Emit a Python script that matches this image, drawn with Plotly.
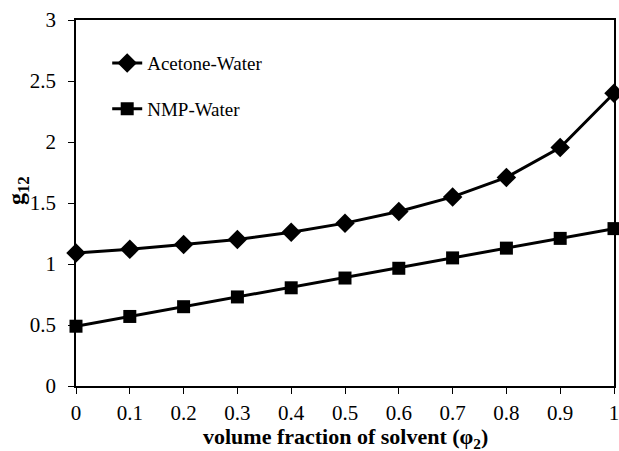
import plotly.graph_objects as go

x_vals = [0, 0.1, 0.2, 0.3, 0.4, 0.5, 0.6, 0.7, 0.8, 0.9, 1.0]
acetone_water = [1.09, 1.12, 1.16, 1.20, 1.26, 1.335, 1.43, 1.55, 1.71, 1.955, 2.40]
nmp_water = [0.49, 0.57, 0.65, 0.73, 0.805, 0.885, 0.965, 1.05, 1.13, 1.21, 1.29]
x_ticks = [0, 0.1, 0.2, 0.3, 0.4, 0.5, 0.6, 0.7, 0.8, 0.9, 1]
y_ticks = [0, 0.5, 1, 1.5, 2, 2.5, 3]
x_title = "<b>volume fraction of solvent (φ<sub>2</sub>)</b>"
y_title = "<b>g<sub>12</sub></b>"

FONT = "Liberation Serif"

fig = go.Figure()
fig.add_trace(go.Scatter(
    x=x_vals, y=acetone_water, name="Acetone-Water", mode="lines+markers",
    line=dict(color="black", width=3),
    marker=dict(symbol="diamond", size=15, color="black"),
    legendgroup="a", cliponaxis=False,
))
fig.add_trace(go.Scatter(
    x=x_vals, y=nmp_water, name="NMP-Water", mode="lines+markers",
    line=dict(color="black", width=3),
    marker=dict(symbol="square", size=13, color="black"),
    legendgroup="b", cliponaxis=False,
))

fig.update_layout(
    width=619, height=451,
    margin=dict(l=76, r=5, t=20, b=65),
    paper_bgcolor="white", plot_bgcolor="white",
    font=dict(family=FONT, size=18, color="black"),
    showlegend=True,
    legend=dict(x=0.058, y=0.934, xanchor="left", yanchor="top",
                bgcolor="rgba(0,0,0,0)", font=dict(size=19, family=FONT),
                tracegroupgap=18, itemwidth=30),
    xaxis=dict(range=[0, 1], tickvals=x_ticks, ticktext=[str(t) for t in x_ticks],
               showgrid=False, zeroline=False, showline=True, linecolor="black",
               linewidth=1.5, mirror=True, ticks="outside", ticklen=6,
               tickcolor="black", tickfont=dict(size=21, family=FONT),
               ticklabelstandoff=1, automargin=False, ticklabeloverflow="allow"),
    yaxis=dict(range=[0, 3], tickvals=y_ticks, ticktext=[str(t) for t in y_ticks],
               showgrid=False, zeroline=False, showline=True, linecolor="black",
               linewidth=1.5, mirror=True, ticks="outside", ticklen=6,
               tickcolor="black", tickfont=dict(size=21, family=FONT),
               ticklabelstandoff=8, automargin=False, ticklabeloverflow="allow"),
    annotations=[
        dict(text=x_title, xref="paper", yref="paper", x=0.5, y=-0.141,
             xanchor="center", yanchor="middle", showarrow=False,
             font=dict(size=22, family=FONT)),
        dict(text=y_title, xref="paper", yref="paper", x=-0.108, y=0.535,
             xanchor="center", yanchor="middle", showarrow=False, textangle=-90,
             font=dict(size=24, family=FONT)),
    ],
)

fig.write_html("out.html")
